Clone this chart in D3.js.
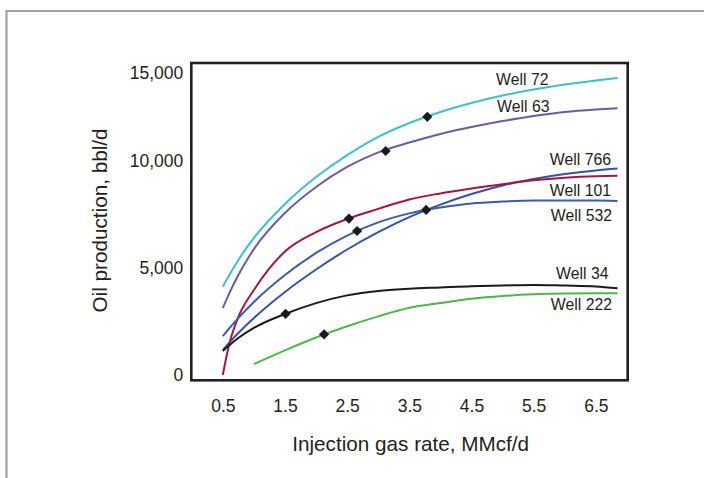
<!DOCTYPE html>
<html>
<head>
<meta charset="utf-8">
<script src="https://cdn.jsdelivr.net/npm/d3@7"></script>
<style>
  body { margin: 0; background: #fff; }
  svg text { font-family: "Liberation Sans", Arial, sans-serif; fill: #231f20; }
</style>
</head>
<body>
<div id="chart"></div>
<script>
// gas rate grid (MMcf/d) and oil production for each well (bbl/d)
const gasRate = [0.5, 0.6, 0.75, 1, 1.5, 2, 2.5, 3, 3.5, 4, 4.5, 5, 5.5, 6, 6.5, 6.85];
const well72  = [4130, 4650, 5370, 6400, 7980, 9230, 10310, 11340, 12130, 12760, 13270, 13690, 14030, 14320, 14550, 14690];
const well63  = [3120, 3790, 4670, 5880, 7560, 8770, 9700, 10460, 11020, 11510, 11900, 12240, 12530, 12760, 12900, 12970];
const well766 = [1170, 1500, 1960, 2660, 3880, 4930, 5860, 6670, 7370, 7950, 8440, 8840, 9140, 9370, 9540, 9630];
const well101 = [0, 1400, 2710, 3970, 5770, 6670, 7280, 7750, 8190, 8470, 8700, 8900, 9080, 9200, 9270, 9290];
const well532 = [1820, 2170, 2660, 3410, 4670, 5700, 6510, 7120, 7540, 7810, 8000, 8090, 8140, 8140, 8140, 8120];
const well34  = [1120, 1380, 1730, 2200, 2850, 3360, 3720, 3930, 4030, 4090, 4150, 4180, 4210, 4180, 4140, 4050];
const well222 = [null, null, null, 510, 1150, 1750, 2280, 2740, 3140, 3360, 3560, 3690, 3770, 3810, 3820, 3820];

const wellNames = ["Well 72", "Well 63", "Well 766", "Well 101", "Well 532", "Well 34", "Well 222"];
const wellColors = ["#3dbfd0", "#6c5aa8", "#3552a6", "#a5163f", "#3a5cb0", "#1a1a1a", "#4db848"];

// optimum points (diamonds), same order as wellNames
const optRate = [3.79, 3.12, 3.77, 2.53, 2.66, 1.51, 2.13];
const optOil  = [12480, 10540, 7700, 7300, 6720, 2860, 1900];

const xTicks = [0.5, 1.5, 2.5, 3.5, 4.5, 5.5, 6.5];
const yTicks = [0, 5000, 10000, 15000];

const width = 704;
const height = 478;

const svg = d3.select("#chart")
  .append("svg")
  .attr("width", width)
  .attr("height", height);

// grey page frame
svg.append("path")
  .attr("d", "M6.5,478V11H704")
  .attr("fill", "none")
  .attr("stroke", "#a0a0a0")
  .attr("stroke-width", 2.2);

const box = { left: 191.3, top: 63, right: 627.7, bottom: 380.3 };

const xScale = d3.scaleLinear()
  .domain([0.5, 6.5])
  .range([222.8, 595.8]);

// the printed axis is not evenly spaced, so follow the tick positions
const yScale = d3.scaleLinear()
  .domain(yTicks)
  .range([375, 268, 160.5, 72.5]);

const wells = [well72, well63, well766, well101, well532, well34, well222];

const line = d3.line()
  .defined(d => d[1] != null)
  .x(d => xScale(d[0]))
  .y(d => yScale(d[1]))
  .curve(d3.curveMonotoneX);

svg.selectAll(".well")
  .data(wells)
  .enter()
  .append("path")
  .attr("class", "well")
  .attr("fill", "none")
  .attr("stroke", (d, i) => wellColors[i])
  .attr("stroke-width", 2)
  .attr("d", d => line(gasRate.map((g, j) => [g, d[j]])));

// diamonds
svg.selectAll(".opt")
  .data(optRate)
  .enter()
  .append("path")
  .attr("class", "opt")
  .attr("d", d3.symbol().type(d3.symbolSquare).size(52))
  .attr("fill", "#1a1a1a")
  .attr("transform", (d, i) => `translate(${xScale(d)},${yScale(optOil[i])}) rotate(45)`);

// well labels
const labelPos = [[548.5, 85], [549.5, 111.7], [611, 165], [611, 195.7], [612, 220.7], [608.5, 279], [612, 310]];
svg.selectAll(".well-label")
  .data(wellNames)
  .enter()
  .append("text")
  .attr("class", "well-label")
  .attr("x", (d, i) => labelPos[i][0])
  .attr("y", (d, i) => labelPos[i][1])
  .attr("text-anchor", "end")
  .attr("font-size", 15.8)
  .text(d => d);

// plot frame
svg.append("rect")
  .attr("x", box.left)
  .attr("y", box.top)
  .attr("width", box.right - box.left)
  .attr("height", box.bottom - box.top)
  .attr("fill", "none")
  .attr("stroke", "#231f20")
  .attr("stroke-width", 2.6);

const yAxis = svg.append("g")
  .attr("transform", `translate(${box.left},0)`)
  .call(d3.axisLeft(yScale).tickValues(yTicks).tickSize(0).tickPadding(8).tickFormat(d3.format(",")));
yAxis.select(".domain").remove();
yAxis.attr("font-size", 17.5);

const xAxis = svg.append("g")
  .attr("transform", `translate(0,${box.bottom})`)
  .call(d3.axisBottom(xScale).tickValues(xTicks).tickSize(0).tickPadding(18.8).tickFormat(d3.format(".1f")));
xAxis.select(".domain").remove();
xAxis.attr("font-size", 17.5);

svg.append("text")
  .attr("x", 410.7)
  .attr("y", 451)
  .attr("text-anchor", "middle")
  .attr("font-size", 20.7)
  .text("Injection gas rate, MMcf/d");

svg.append("text")
  .attr("transform", "translate(107,220.5) rotate(-90)")
  .attr("text-anchor", "middle")
  .attr("font-size", 20.7)
  .text("Oil production, bbl/d");
</script>
</body>
</html>
